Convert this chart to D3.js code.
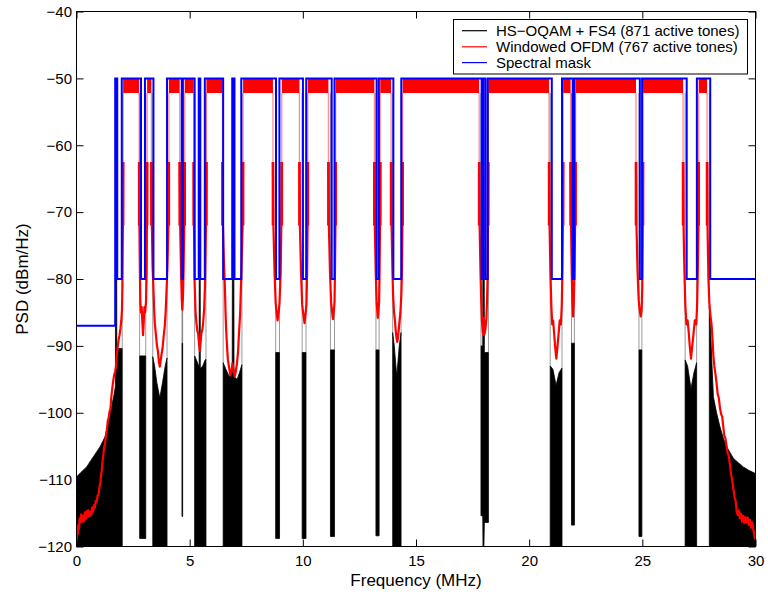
<!DOCTYPE html>
<html><head><meta charset="utf-8">
<script src="https://cdn.jsdelivr.net/npm/d3@7"></script>
<style>
body{margin:0;background:#fff}
svg{display:block}
text{font-family:"Liberation Sans",Arial,Helvetica,sans-serif}
</style>
</head><body>
<svg id="c" width="768" height="596"></svg>
<script>
// ---------------- data ----------------
const xTicks = [0, 5, 10, 15, 20, 25, 30];
const yTicks = [-120, -110, -100, -90, -80, -70, -60, -50, -40];
const legendLabels = ["HS\u2212OQAM + FS4 (871 active tones)", "Windowed OFDM (767 active tones)", "Spectral mask"];

// spectral mask: breakpoints (MHz) and level (dBm/Hz) of each interval
const maskEdges = [0,1.71,1.80,2.0,2.85,3.025,3.4,4.0,4.65,4.7,5.22,5.40,5.47,5.67,6.48,6.88,6.98,7.28,8.815,8.965,10.005,10.15,11.275,11.4,13.26,13.36,14.0,14.35,17.9,17.97,18.068,18.168,21.0,21.45,21.924,22.0,24.89,24.99,26.96,27.41,28.0,30];
const maskLevels = [-87,-50,-80,-50,-80,-50,-80,-50,-80,-50,-80,-50,-80,-50,-80,-50,-80,-50,-80,-50,-80,-50,-80,-50,-80,-50,-80,-50,-80,-50,-80,-50,-80,-50,-80,-50,-80,-50,-80,-50,-80];

// windowed OFDM: in-band ripple band (start, end MHz), level -50 .. -52.2
const ofdmBands = [[2.06,2.77],[3.12,3.31],[4.08,4.56],[4.78,5.18],[5.74,6.45],[7.36,8.68],[9.07,9.85],[10.22,11.13],[11.45,13.16],[13.42,13.9],[14.41,17.79],[18.19,20.88],[21.5,21.83],[22.05,24.72],[25.03,26.8],[27.49,27.86]];
const ofdmBandTop = -50, ofdmBandBottom = -52.2;

// windowed OFDM: out-of-band traces [MHz, dBm/Hz]
const ofdmOut = [
 [[0,-119.5],[0.02,-117.5],[0.05,-118.2],[0.08,-116.8],[0.11,-117.4],[0.14,-115.8],[0.18,-116.4],[0.21,-115.2],[0.25,-116.3],[0.29,-115.4],[0.33,-116.2],[0.37,-114.9],[0.41,-115.8],[0.45,-114.7],[0.49,-115.6],[0.53,-114.6],[0.57,-115.5],[0.61,-114.8],[0.65,-115.3],[0.69,-114.2],[0.73,-114.8],[0.77,-113.9],[0.81,-114.2],[0.85,-113.2],[0.89,-113.4],[0.93,-112.4],[0.97,-112.3],[1.01,-111.2],[1.05,-110.6],[1.09,-109.2],[1.12,-108.6],[1.15,-107.2],[1.18,-106.5],[1.22,-105.2],[1.26,-104.6],[1.3,-103.4],[1.34,-102.6],[1.38,-101.2],[1.42,-100.8],[1.46,-99.8],[1.5,-99.4],[1.54,-97.6],[1.58,-96.4],[1.62,-95.3],[1.66,-94.4],[1.70,-93.9],[1.74,-93.2],[1.78,-91.4],[1.82,-90.2],[1.86,-89.1],[1.9,-88.4],[1.94,-87.4],[1.98,-86.2],[2.01,-84.6],[2.03,-80.6],[2.05,-72],[2.06,-62.5]],
 [[2.77,-62.5],[2.78,-72],[2.80,-79],[2.82,-83.5],[2.85,-85],[2.88,-84.2],[2.91,-86.5],[2.94,-88.4],[2.97,-86.5],[3.0,-84.2],[3.03,-85],[3.07,-83.5],[3.10,-79],[3.11,-72],[3.12,-62.5]],
 [[3.31,-62.5],[3.33,-72],[3.36,-78],[3.39,-80.6],[3.43,-84.5],[3.46,-86.6],[3.51,-88.4],[3.56,-90.1],[3.60,-90.8],[3.64,-92.4],[3.68,-93.1],[3.72,-92.2],[3.76,-91.2],[3.80,-90.4],[3.85,-88.6],[3.90,-87.1],[3.94,-84.8],[3.98,-81.6],[4.02,-78],[4.06,-72],[4.08,-62.5]],
 [[4.56,-62.5],[4.58,-72],[4.62,-79],[4.65,-83],[4.675,-84.6],[4.70,-83],[4.73,-79],[4.76,-72],[4.78,-62.5]],
 [[5.18,-62.5],[5.19,-72],[5.22,-80.6],[5.26,-85],[5.30,-86.6],[5.34,-87.8],[5.37,-88.1],[5.41,-89.5],[5.45,-90.8],[5.49,-89.2],[5.52,-88.1],[5.56,-87.6],[5.59,-86.8],[5.64,-84.5],[5.68,-80.6],[5.72,-72],[5.74,-62.5]],
 [[6.45,-62.5],[6.47,-72],[6.51,-77],[6.55,-80.6],[6.59,-85.5],[6.62,-88.1],[6.66,-90.6],[6.69,-92.1],[6.74,-93.2],[6.80,-94.4],[6.85,-93.8],[6.89,-92.6],[6.93,-93.4],[6.99,-94.6],[7.04,-93.8],[7.09,-92.6],[7.14,-90.8],[7.18,-88.1],[7.23,-85.2],[7.27,-80.6],[7.31,-76],[7.34,-72],[7.36,-62.5]],
 [[8.68,-62.5],[8.70,-72],[8.75,-79],[8.80,-83.6],[8.84,-85],[8.885,-86.2],[8.93,-85],[8.97,-83.6],[9.02,-79],[9.05,-72],[9.07,-62.5]],
 [[9.85,-62.5],[9.87,-72],[9.92,-79],[9.97,-83.8],[10.02,-85.2],[10.075,-86.6],[10.12,-85.2],[10.16,-83.8],[10.19,-79],[10.21,-72],[10.22,-62.5]],
 [[11.13,-62.5],[11.15,-72],[11.2,-79],[11.25,-83.5],[11.29,-84.8],[11.33,-86],[11.37,-84.8],[11.40,-83.5],[11.42,-79],[11.44,-72],[11.45,-62.5]],
 [[13.16,-62.5],[13.18,-72],[13.22,-79],[13.26,-83.4],[13.29,-84.8],[13.31,-85.8],[13.34,-84.8],[13.37,-83.4],[13.39,-79],[13.41,-72],[13.42,-62.5]],
 [[13.9,-62.5],[13.92,-72],[13.96,-79],[13.99,-82.5],[14.03,-85],[14.07,-86.2],[14.1,-87.6],[14.14,-88.8],[14.17,-89.4],[14.21,-88.6],[14.24,-87.5],[14.28,-86],[14.31,-85],[14.35,-82.5],[14.38,-79],[14.40,-72],[14.41,-62.5]],
 [[17.79,-62.5],[17.81,-72],[17.85,-79],[17.88,-83],[17.91,-86],[17.94,-87.5],[17.97,-88.4],[18.0,-85.8],[18.03,-88.2],[18.07,-87.4],[18.11,-86],[18.14,-83],[18.17,-79],[18.18,-72],[18.19,-62.5]],
 [[20.88,-62.5],[20.9,-72],[20.94,-79],[20.98,-84],[21.02,-86.8],[21.06,-86.2],[21.1,-88],[21.15,-90.2],[21.2,-91.9],[21.25,-90.2],[21.3,-88.2],[21.35,-86.2],[21.4,-86.8],[21.44,-84],[21.47,-79],[21.49,-72],[21.5,-62.5]],
 [[21.83,-62.5],[21.85,-72],[21.88,-79],[21.91,-83.5],[21.94,-85.6],[21.97,-83.5],[22.0,-79],[22.03,-72],[22.05,-62.5]],
 [[24.72,-62.5],[24.74,-72],[24.79,-79],[24.84,-83.2],[24.88,-84.6],[24.93,-85.6],[24.97,-84.6],[25.0,-81],[25.02,-72],[25.03,-62.5]],
 [[26.8,-62.5],[26.82,-72],[26.86,-79],[26.9,-84],[26.95,-86.8],[27.0,-86.2],[27.05,-88],[27.1,-90.2],[27.15,-91.9],[27.2,-90.2],[27.26,-88.2],[27.32,-86.2],[27.38,-86.8],[27.42,-84],[27.45,-79],[27.48,-72],[27.49,-62.5]],
 [[27.86,-62.5],[27.88,-72],[27.92,-80],[27.96,-83.5],[28.01,-85.5],[28.06,-86.8],[28.1,-89],[28.14,-91.5],[28.18,-93],[28.23,-94.2],[28.28,-95.6],[28.33,-97.2],[28.38,-97.8],[28.43,-99.3],[28.48,-100.2],[28.53,-100.6],[28.57,-101.9],[28.62,-103.4],[28.67,-103.8],[28.72,-104.9],[28.77,-106.1],[28.82,-106.4],[28.87,-107.8],[28.92,-109.2],[28.97,-110],[29.02,-111.3],[29.07,-112.6],[29.12,-113.1],[29.17,-114.8],[29.22,-115.3],[29.27,-114.6],[29.31,-115.8],[29.36,-115.1],[29.41,-116.3],[29.46,-115.4],[29.51,-116.5],[29.56,-115.6],[29.61,-116.4],[29.66,-115.7],[29.71,-116.8],[29.76,-116],[29.81,-117.2],[29.86,-116.4],[29.9,-117.4],[29.94,-118.2],[29.97,-118.8],[30,-117.6]]
];

// HS-OQAM + FS4: envelope of the dense out-of-band trace [MHz, upper dB, lower dB]
const oqamOut = [
 [[0,-109.6,-120],[0.2,-108.9,-120],[0.45,-108.1,-120],[0.74,-106.6,-120],[1.04,-105.1,-120],[1.26,-103.6,-120],[1.40,-101.6,-120],[1.55,-99.1,-120],[1.67,-97.1,-120],[1.72,-96,-120],[1.73,-50,-120],[1.77,-50,-120],[1.78,-91,-120],[1.85,-90.4,-120],[1.95,-90.4,-120],[2.02,-90.4,-120]],
 [[2.79,-91.5,-118.8],[3.06,-91.5,-118.8]],
 [[3.37,-91.6,-120],[3.45,-93,-120],[3.55,-95.5,-120],[3.68,-97.8,-120],[3.8,-95.5,-120],[3.92,-93,-120],[4.0,-91.8,-120]],
 [[4.66,-89.6,-115.5],[4.69,-89.6,-115.5]],
 [[5.22,-91.5,-120],[5.32,-92.3,-120],[5.42,-93.2,-120],[5.43,-50,-120],[5.46,-50,-120],[5.47,-93.4,-120],[5.58,-93,-120],[5.67,-92.2,-120],[5.72,-92,-120]],
 [[6.48,-92.5,-120],[6.6,-93.5,-120],[6.75,-94.6,-120],[6.88,-94,-120],[6.9,-50,-120],[6.94,-50,-120],[6.96,-94.6,-120],[7.1,-95,-120],[7.2,-94,-120],[7.31,-92.8,-120]],
 [[8.8,-91,-118.8],[8.97,-91,-118.8]],
 [[9.97,-91,-118.8],[10.14,-91,-118.8]],
 [[11.22,-90.6,-118.5],[11.40,-90.6,-118.5]],
 [[13.23,-90.6,-118.4],[13.37,-90.6,-118.4]],
 [[13.97,-88,-120],[14.04,-90,-120],[14.15,-94.6,-120],[14.26,-90,-120],[14.34,-88,-120]],
 [[17.87,-90,-115.4],[17.95,-90,-115.4],[17.96,-50,-120],[18.0,-50,-120],[18.02,-91,-116.4],[18.2,-91,-116.4]],
 [[20.93,-93,-120],[21.05,-93.5,-120],[21.19,-95.9,-120],[21.32,-94,-120],[21.45,-93.3,-120]],
 [[21.87,-89.6,-116.8],[22.0,-89.6,-116.8]],
 [[24.85,-90.6,-118.5],[24.98,-90.6,-118.5]],
 [[26.89,-92.1,-120],[27.0,-93,-120],[27.15,-96.4,-120],[27.28,-94,-120],[27.4,-92.5,-120]],
 [[27.96,-84,-120],[28.02,-88,-120],[28.08,-93,-120],[28.14,-97.6,-120],[28.28,-100,-120],[28.43,-102.1,-120],[28.58,-103.8,-120],[28.73,-105.1,-120],[29.02,-106.8,-120],[29.25,-107.5,-120],[29.46,-108.1,-120],[29.7,-108.6,-120],[30,-109.1,-120]]
];

// ---------------- drawing ----------------
const W = 768, H = 596;
const M = {l: 76.5, r: 755.5, t: 11.5, b: 546.5};
const svg = d3.select("#c");
const x = d3.scaleLinear().domain([0, 30]).range([M.l, M.r]);
const y = d3.scaleLinear().domain([-120, -40]).range([M.b, M.t]);

svg.append("rect").attr("width", W).attr("height", H).attr("fill", "#fff");
svg.append("defs").append("clipPath").attr("id", "clip")
  .append("rect").attr("x", M.l).attr("y", M.t).attr("width", M.r - M.l).attr("height", M.b - M.t);
const g = svg.append("g").attr("clip-path", "url(#clip)");

const BLACK = "#000", RED = "#ff0000", BLUE = "#0000ff";

// HS-OQAM (black)
const envArea = d3.area().x(d => x(d[0])).y0(d => y(d[2])).y1(d => y(d[1]));
const vline = (f, a, b, col, w, op) => g.append("line")
  .attr("x1", x(f)).attr("x2", x(f)).attr("y1", y(a)).attr("y2", y(b))
  .attr("stroke", col).attr("stroke-width", w).attr("stroke-opacity", op);
oqamOut.forEach(seg => {
  const f0 = seg[0], f1 = seg[seg.length - 1];
  if (f0[0] > 0) vline(f0[0], ofdmBandBottom, f0[1], BLACK, 0.8, 0.5);
  if (f1[0] < 30) vline(f1[0], ofdmBandBottom, f1[1], BLACK, 0.8, 0.5);
  g.append("path").attr("d", envArea(seg)).attr("fill", BLACK)
    .attr("stroke", BLACK).attr("stroke-width", 0.8);
});

// Windowed OFDM (red)
ofdmBands.forEach(b => {
  g.append("path").attr("d", envArea([[b[0], ofdmBandTop, ofdmBandBottom], [b[1], ofdmBandTop, ofdmBandBottom]]))
    .attr("fill", RED);
});
const ln = d3.line().x(d => x(d[0])).y(d => y(d[1]));
ofdmOut.forEach(tr => {
  const ends = [tr[0], tr[tr.length - 1]].filter(p => p[1] === -62.5);
  ends.forEach(p => {
    vline(p[0], ofdmBandBottom, -62.5, RED, 1.3, 0.45);
    vline(p[0], -62.5, -72, RED, 2.6, 1);
  });
  g.append("path").attr("d", ln(tr)).attr("fill", "none")
    .attr("stroke", RED).attr("stroke-width", 2.2).attr("stroke-linejoin", "round");
});

// Spectral mask (blue)
const maskPts = maskEdges.map((e, i) => [e, maskLevels[Math.min(i, maskLevels.length - 1)]]);
g.append("path").attr("d", d3.line().curve(d3.curveStepAfter).x(d => x(d[0])).y(d => y(d[1]))(maskPts))
  .attr("fill", "none").attr("stroke", BLUE).attr("stroke-width", 2);

// axes
const styleAxis = sel => {
  sel.select(".domain").remove();
  sel.selectAll("line").attr("stroke", "#000").attr("stroke-width", 1);
  sel.selectAll("text").attr("fill", "#000").style("font-size", "15px")
    .style("font-family", '"Liberation Sans", Arial, Helvetica, sans-serif');
};
svg.append("g").attr("transform", `translate(0,${M.b})`)
  .call(d3.axisBottom(x).tickValues(xTicks).tickSize(-7).tickPadding(8.5).tickFormat(d3.format("d"))).call(styleAxis);
svg.append("g").attr("transform", `translate(0,${M.t})`)
  .call(d3.axisTop(x).tickValues(xTicks).tickSize(-7).tickFormat("")).call(styleAxis);
svg.append("g").attr("transform", `translate(${M.l},0)`)
  .call(d3.axisLeft(y).tickValues(yTicks).tickSize(-7).tickPadding(4.5).tickFormat(d3.format("d"))).call(styleAxis);
svg.append("g").attr("transform", `translate(${M.r},0)`)
  .call(d3.axisRight(y).tickValues(yTicks).tickSize(-7).tickFormat("")).call(styleAxis);

svg.append("rect").attr("x", M.l).attr("y", M.t).attr("width", M.r - M.l).attr("height", M.b - M.t)
  .attr("fill", "none").attr("stroke", "#000").attr("stroke-width", 1);

svg.append("text").attr("x", (M.l + M.r) / 2).attr("y", 586).attr("text-anchor", "middle")
  .style("font-size", "17px").text("Frequency (MHz)");
svg.append("text").attr("transform", `translate(28,${(M.t + M.b) / 2}) rotate(-90)`).attr("text-anchor", "middle")
  .style("font-size", "17px").text("PSD (dBm/Hz)");

// legend
const lg = svg.append("g");
lg.append("rect").attr("x", 453.5).attr("y", 19.5).attr("width", 294).attr("height", 54.5)
  .attr("fill", "#fff").attr("stroke", "#000").attr("stroke-width", 1);
const lgCols = [BLACK, RED, BLUE];
const rowY = [30.7, 46.8, 62.6];
legendLabels.forEach((t, i) => {
  lg.append("line").attr("x1", 462).attr("x2", 487).attr("y1", rowY[i]).attr("y2", rowY[i])
    .attr("stroke", lgCols[i]).attr("stroke-width", 1.2);
  lg.append("text").attr("x", 496).attr("y", rowY[i] + 5.4).style("font-size", "15px").attr("fill", "#000").text(t);
});
</script>
</body></html>
